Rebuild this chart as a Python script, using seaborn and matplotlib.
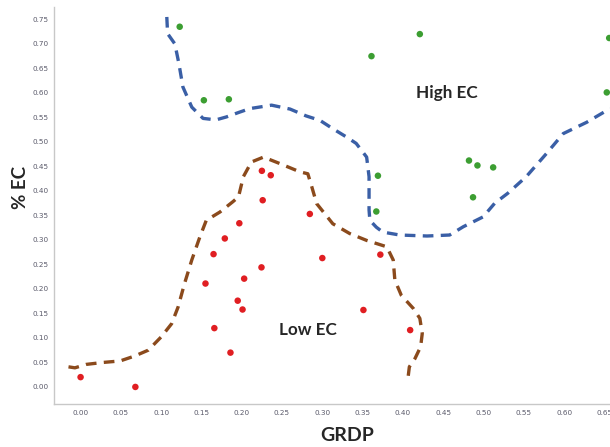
import matplotlib
matplotlib.use("Agg")
import matplotlib.pyplot as plt
import seaborn as sns
import pandas as pd

# High EC points (green)
high_x = [0.123, 0.153, 0.184, 0.421, 0.361, 0.656, 0.653, 0.369, 0.367, 0.482, 0.4925, 0.512, 0.487]
high_y = [0.735, 0.585, 0.587, 0.720, 0.675, 0.712, 0.601, 0.431, 0.358, 0.462, 0.452, 0.448, 0.387]

# Low EC points (red)
low_x = [0.225, 0.236, 0.226, 0.2845, 0.0, 0.068, 0.155, 0.165, 0.166, 0.179, 0.197, 0.186,
         0.195, 0.201, 0.203, 0.2245, 0.300, 0.372, 0.351, 0.409]
low_y = [0.441, 0.432, 0.381, 0.353, 0.020, 0.0, 0.211, 0.271, 0.120, 0.303, 0.334, 0.070,
         0.176, 0.158, 0.221, 0.244, 0.263, 0.270, 0.157, 0.116]

# Blue boundary (High EC)
blue_x = [0.107, 0.108, 0.117, 0.122, 0.127, 0.138, 0.152, 0.168, 0.181, 0.196, 0.21, 0.237, 0.26,
          0.280, 0.297, 0.313, 0.330, 0.342, 0.355, 0.358, 0.358, 0.359, 0.367, 0.375, 0.396,
          0.430, 0.458, 0.475, 0.4995, 0.514, 0.53, 0.553, 0.578, 0.599, 0.628, 0.657]
blue_y = [0.755, 0.721, 0.700, 0.660, 0.612, 0.571, 0.548, 0.545, 0.551, 0.560, 0.568, 0.575, 0.567,
          0.553, 0.544, 0.527, 0.510, 0.497, 0.469, 0.429, 0.361, 0.340, 0.326, 0.316, 0.310,
          0.308, 0.310, 0.327, 0.347, 0.375, 0.395, 0.429, 0.476, 0.517, 0.540, 0.568]

# Brown boundary (Low EC)
brown_x = [-0.015, -0.007, 0.007, 0.028, 0.049, 0.067, 0.084, 0.100, 0.113, 0.121, 0.129, 0.138,
           0.148, 0.156, 0.173, 0.189, 0.196, 0.202, 0.212, 0.227, 0.247, 0.272, 0.282, 0.287,
           0.293, 0.313, 0.334, 0.355, 0.380, 0.388, 0.390, 0.398, 0.413, 0.421, 0.424, 0.422,
           0.415, 0.408, 0.406]
brown_y = [0.041, 0.039, 0.046, 0.050, 0.053, 0.063, 0.075, 0.102, 0.129, 0.163, 0.211, 0.259,
           0.306, 0.340, 0.357, 0.378, 0.388, 0.429, 0.459, 0.469, 0.456, 0.439, 0.435, 0.408,
           0.374, 0.333, 0.313, 0.299, 0.286, 0.259, 0.218, 0.187, 0.160, 0.140, 0.109, 0.082,
           0.058, 0.041, 0.014]

x_ticks = [0.00, 0.05, 0.10, 0.15, 0.20, 0.25, 0.30, 0.35, 0.40, 0.45, 0.50, 0.55, 0.60, 0.65]
y_ticks = [0.00, 0.05, 0.10, 0.15, 0.20, 0.25, 0.30, 0.35, 0.40, 0.45, 0.50, 0.55, 0.60, 0.65, 0.70, 0.75]

sns.set_style("white")
plt.rcParams['font.family'] = ['DejaVu Sans']

pts = pd.DataFrame({
    "GRDP": high_x + low_x,
    "EC": high_y + low_y,
    "cls": ["High"] * len(high_x) + ["Low"] * len(low_x),
})
blue = pd.DataFrame({"x": blue_x, "y": blue_y})
brown = pd.DataFrame({"x": brown_x, "y": brown_y})

fig = plt.figure(figsize=(6.1, 4.47), dpi=100)
ax = fig.add_axes([0.0885, 0.096, 0.9115, 0.888])

sns.lineplot(data=blue, x="x", y="y", sort=False, estimator=None, ax=ax,
             color="#3A5FA6", linewidth=2.4, linestyle=(0, (3.2, 2.2)))
sns.lineplot(data=brown, x="x", y="y", sort=False, estimator=None, ax=ax,
             color="#8B4A1C", linewidth=2.4, linestyle=(0, (3.2, 2.2)))
sns.scatterplot(data=pts, x="GRDP", y="EC", hue="cls",
                palette={"High": "#3C9E32", "Low": "#E01E22"},
                s=22, linewidth=0, legend=False, ax=ax, zorder=3)

ax.set_xlim(-0.033, 0.657)
ax.set_ylim(-0.035, 0.775)
ax.set_xticks(x_ticks)
ax.set_yticks(y_ticks)
ax.set_xticklabels([f"{v:.2f}" for v in x_ticks])
ax.set_yticklabels([f"{v:.2f}" for v in y_ticks])
ax.tick_params(axis="both", labelsize=5.2, colors="#5A5A6A", length=2, width=0.6, pad=2)

for s in ["top", "right"]:
    ax.spines[s].set_visible(False)
for s in ["left", "bottom"]:
    ax.spines[s].set_color("#C8C8C8")
    ax.spines[s].set_linewidth(1.0)

ax.set_xlabel("GRDP", fontsize=14, fontweight="bold", family="Lato")
ax.set_ylabel("% EC", fontsize=13.5, fontweight="bold", family="Lato")
ax.xaxis.set_label_coords(0.527, -0.078)
ax.yaxis.set_label_coords(-0.060, 0.547)
ax.xaxis.label.set_verticalalignment("center")
ax.yaxis.label.set_verticalalignment("center")

ax.text(0.454, 0.599, "High EC", fontsize=12.3, fontweight="bold", family="Lato",
        ha="center", va="center")
ax.text(0.282, 0.117, "Low EC", fontsize=12.3, fontweight="bold", family="Lato",
        ha="center", va="center")

fig.savefig("out.png", dpi=100)
